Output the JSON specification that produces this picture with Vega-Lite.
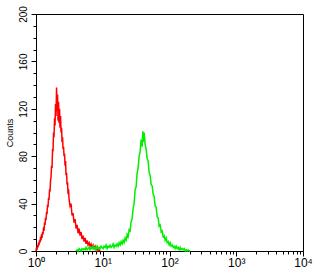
{
"$schema": "https://vega.github.io/schema/vega-lite/v6.json",
"width": 267, "height": 237,
"autosize": "none",
"padding": {"left": 36, "top": 14, "right": 20, "bottom": 29},
"config": {"view": {"stroke": "#000", "strokeWidth": 1}, "font": "Liberation Sans"},
"data": {"values": [
{"s":"red","l":0.000,"c":0},{"s":"red","l":0.008,"c":3},{"s":"red","l":0.015,"c":1},{"s":"red","l":0.023,"c":5},{"s":"red","l":0.030,"c":3},{"s":"red","l":0.038,"c":7},{"s":"red","l":0.045,"c":5},{"s":"red","l":0.053,"c":9},{"s":"red","l":0.060,"c":7},{"s":"red","l":0.068,"c":12},{"s":"red","l":0.075,"c":9},{"s":"red","l":0.083,"c":14},{"s":"red","l":0.090,"c":11},{"s":"red","l":0.098,"c":16},{"s":"red","l":0.105,"c":14},{"s":"red","l":0.113,"c":20},{"s":"red","l":0.120,"c":17},{"s":"red","l":0.128,"c":24},{"s":"red","l":0.135,"c":22},{"s":"red","l":0.143,"c":28},{"s":"red","l":0.150,"c":26},{"s":"red","l":0.158,"c":33},{"s":"red","l":0.165,"c":31},{"s":"red","l":0.173,"c":39},{"s":"red","l":0.180,"c":37},{"s":"red","l":0.188,"c":45},{"s":"red","l":0.195,"c":43},{"s":"red","l":0.203,"c":52},{"s":"red","l":0.210,"c":50},{"s":"red","l":0.218,"c":60},{"s":"red","l":0.225,"c":62},{"s":"red","l":0.233,"c":72},{"s":"red","l":0.240,"c":70},{"s":"red","l":0.248,"c":86},{"s":"red","l":0.255,"c":84},{"s":"red","l":0.263,"c":100},{"s":"red","l":0.270,"c":96},{"s":"red","l":0.278,"c":112},{"s":"red","l":0.285,"c":106},{"s":"red","l":0.293,"c":124},{"s":"red","l":0.300,"c":114},{"s":"red","l":0.308,"c":138},{"s":"red","l":0.315,"c":118},{"s":"red","l":0.323,"c":132},{"s":"red","l":0.330,"c":110},{"s":"red","l":0.338,"c":126},{"s":"red","l":0.345,"c":108},{"s":"red","l":0.353,"c":120},{"s":"red","l":0.360,"c":104},{"s":"red","l":0.368,"c":114},{"s":"red","l":0.375,"c":100},{"s":"red","l":0.383,"c":104},{"s":"red","l":0.390,"c":92},{"s":"red","l":0.398,"c":96},{"s":"red","l":0.405,"c":86},{"s":"red","l":0.413,"c":88},{"s":"red","l":0.420,"c":80},{"s":"red","l":0.428,"c":82},{"s":"red","l":0.435,"c":72},{"s":"red","l":0.443,"c":76},{"s":"red","l":0.450,"c":64},{"s":"red","l":0.458,"c":66},{"s":"red","l":0.465,"c":56},{"s":"red","l":0.473,"c":58},{"s":"red","l":0.480,"c":48},{"s":"red","l":0.488,"c":52},{"s":"red","l":0.495,"c":44},{"s":"red","l":0.510,"c":38},{"s":"red","l":0.525,"c":40},{"s":"red","l":0.540,"c":30},{"s":"red","l":0.555,"c":32},{"s":"red","l":0.570,"c":24},{"s":"red","l":0.585,"c":27},{"s":"red","l":0.600,"c":19},{"s":"red","l":0.615,"c":22},{"s":"red","l":0.630,"c":15},{"s":"red","l":0.645,"c":19},{"s":"red","l":0.660,"c":13},{"s":"red","l":0.675,"c":16},{"s":"red","l":0.690,"c":10},{"s":"red","l":0.705,"c":13},{"s":"red","l":0.720,"c":8},{"s":"red","l":0.735,"c":11},{"s":"red","l":0.750,"c":6},{"s":"red","l":0.765,"c":9},{"s":"red","l":0.780,"c":5},{"s":"red","l":0.795,"c":7},{"s":"red","l":0.810,"c":4},{"s":"red","l":0.825,"c":6},{"s":"red","l":0.840,"c":3},{"s":"red","l":0.855,"c":5},{"s":"red","l":0.870,"c":2},{"s":"red","l":0.885,"c":4},{"s":"red","l":0.900,"c":1},{"s":"red","l":0.915,"c":3},{"s":"red","l":0.930,"c":0},{"s":"red","l":0.945,"c":1},{"s":"red","l":0.960,"c":0},
{"s":"green","l":0.600,"c":0},{"s":"green","l":0.615,"c":1},{"s":"green","l":0.630,"c":0},{"s":"green","l":0.645,"c":2},{"s":"green","l":0.660,"c":1},{"s":"green","l":0.675,"c":0},{"s":"green","l":0.690,"c":2},{"s":"green","l":0.705,"c":1},{"s":"green","l":0.720,"c":2},{"s":"green","l":0.735,"c":1},{"s":"green","l":0.750,"c":3},{"s":"green","l":0.765,"c":1},{"s":"green","l":0.780,"c":2},{"s":"green","l":0.795,"c":3},{"s":"green","l":0.810,"c":1},{"s":"green","l":0.825,"c":3},{"s":"green","l":0.840,"c":2},{"s":"green","l":0.855,"c":4},{"s":"green","l":0.870,"c":2},{"s":"green","l":0.885,"c":3},{"s":"green","l":0.900,"c":1},{"s":"green","l":0.915,"c":4},{"s":"green","l":0.930,"c":2},{"s":"green","l":0.945,"c":3},{"s":"green","l":0.960,"c":2},{"s":"green","l":0.975,"c":4},{"s":"green","l":0.990,"c":3},{"s":"green","l":1.005,"c":2},{"s":"green","l":1.020,"c":4},{"s":"green","l":1.035,"c":3},{"s":"green","l":1.050,"c":5},{"s":"green","l":1.065,"c":2},{"s":"green","l":1.080,"c":4},{"s":"green","l":1.095,"c":3},{"s":"green","l":1.110,"c":5},{"s":"green","l":1.125,"c":3},{"s":"green","l":1.140,"c":4},{"s":"green","l":1.155,"c":6},{"s":"green","l":1.170,"c":3},{"s":"green","l":1.185,"c":5},{"s":"green","l":1.200,"c":4},{"s":"green","l":1.215,"c":6},{"s":"green","l":1.230,"c":4},{"s":"green","l":1.245,"c":7},{"s":"green","l":1.260,"c":5},{"s":"green","l":1.275,"c":8},{"s":"green","l":1.290,"c":6},{"s":"green","l":1.305,"c":9},{"s":"green","l":1.320,"c":7},{"s":"green","l":1.335,"c":11},{"s":"green","l":1.350,"c":9},{"s":"green","l":1.365,"c":14},{"s":"green","l":1.380,"c":12},{"s":"green","l":1.395,"c":18},{"s":"green","l":1.410,"c":17},{"s":"green","l":1.425,"c":25},{"s":"green","l":1.440,"c":27},{"s":"green","l":1.455,"c":36},{"s":"green","l":1.470,"c":40},{"s":"green","l":1.485,"c":52},{"s":"green","l":1.500,"c":54},{"s":"green","l":1.515,"c":66},{"s":"green","l":1.530,"c":70},{"s":"green","l":1.545,"c":80},{"s":"green","l":1.560,"c":84},{"s":"green","l":1.575,"c":94},{"s":"green","l":1.590,"c":88},{"s":"green","l":1.600,"c":101},{"s":"green","l":1.610,"c":92},{"s":"green","l":1.620,"c":100},{"s":"green","l":1.635,"c":90},{"s":"green","l":1.650,"c":86},{"s":"green","l":1.665,"c":78},{"s":"green","l":1.680,"c":76},{"s":"green","l":1.695,"c":66},{"s":"green","l":1.710,"c":64},{"s":"green","l":1.725,"c":56},{"s":"green","l":1.740,"c":55},{"s":"green","l":1.755,"c":48},{"s":"green","l":1.770,"c":46},{"s":"green","l":1.785,"c":38},{"s":"green","l":1.800,"c":37},{"s":"green","l":1.815,"c":29},{"s":"green","l":1.830,"c":28},{"s":"green","l":1.845,"c":21},{"s":"green","l":1.860,"c":22},{"s":"green","l":1.875,"c":16},{"s":"green","l":1.890,"c":17},{"s":"green","l":1.905,"c":12},{"s":"green","l":1.920,"c":13},{"s":"green","l":1.935,"c":9},{"s":"green","l":1.950,"c":11},{"s":"green","l":1.965,"c":7},{"s":"green","l":1.980,"c":8},{"s":"green","l":1.995,"c":5},{"s":"green","l":2.010,"c":7},{"s":"green","l":2.025,"c":4},{"s":"green","l":2.040,"c":5},{"s":"green","l":2.055,"c":3},{"s":"green","l":2.070,"c":4},{"s":"green","l":2.085,"c":2},{"s":"green","l":2.100,"c":4},{"s":"green","l":2.115,"c":2},{"s":"green","l":2.130,"c":3},{"s":"green","l":2.145,"c":1},{"s":"green","l":2.160,"c":3},{"s":"green","l":2.175,"c":1},{"s":"green","l":2.190,"c":2},{"s":"green","l":2.205,"c":1},{"s":"green","l":2.220,"c":2},{"s":"green","l":2.235,"c":0},{"s":"green","l":2.250,"c":1},{"s":"green","l":2.265,"c":0},{"s":"green","l":2.280,"c":1},{"s":"green","l":2.295,"c":0},{"s":"green","l":2.310,"c":0}
]},
"mark": {"type": "line", "strokeWidth": 1.5, "interpolate": "linear"},
"encoding": {
  "x": {"field": "l", "type": "quantitative",
    "scale": {"domain": [0, 4], "nice": false, "zero": false},
    "axis": {"title": null, "grid": false, "domainColor": "#000", "tickColor": "#000",
      "values": [0,0.301,0.477,0.602,0.699,0.778,0.845,0.903,0.954,1,1.301,1.477,1.602,1.699,1.778,1.845,1.903,1.954,2,2.301,2.477,2.602,2.699,2.778,2.845,2.903,2.954,3,3.301,3.477,3.602,3.699,3.778,3.845,3.903,3.954,4],
      "labelExpr": "datum.value % 1 === 0 ? '10' + ['⁰','¹','²','³','⁴'][datum.value] : ''",
      "tickSize": {"condition": {"test": "datum.value % 1 === 0", "value": 5}, "value": 3},
      "labelFontSize": 12, "labelColor": "#000", "labelPadding": 1, "labelFlush": false}},
  "y": {"field": "c", "type": "quantitative",
    "scale": {"domain": [0, 200], "nice": false},
    "axis": {"title": "Counts", "grid": false, "domainColor": "#000", "tickColor": "#000",
      "values": [0,10,20,30,40,50,60,70,80,90,100,110,120,130,140,150,160,170,180,190,200],
      "labelExpr": "datum.value % 40 === 0 ? datum.label : ''",
      "tickSize": {"condition": {"test": "datum.value % 40 === 0", "value": 5}, "value": 3},
      "labelAngle": -90, "labelAlign": "center", "labelBaseline": "bottom",
      "labelFontSize": 10, "labelColor": "#000", "labelPadding": 3,
      "titleFontSize": 9, "titleFontWeight": "normal", "titleColor": "#000", "titlePadding": 4}},
  "color": {"field": "s", "type": "nominal", "legend": null,
    "scale": {"domain": ["red", "green"], "range": ["#ff0000", "#00ee00"]}}
}
}
